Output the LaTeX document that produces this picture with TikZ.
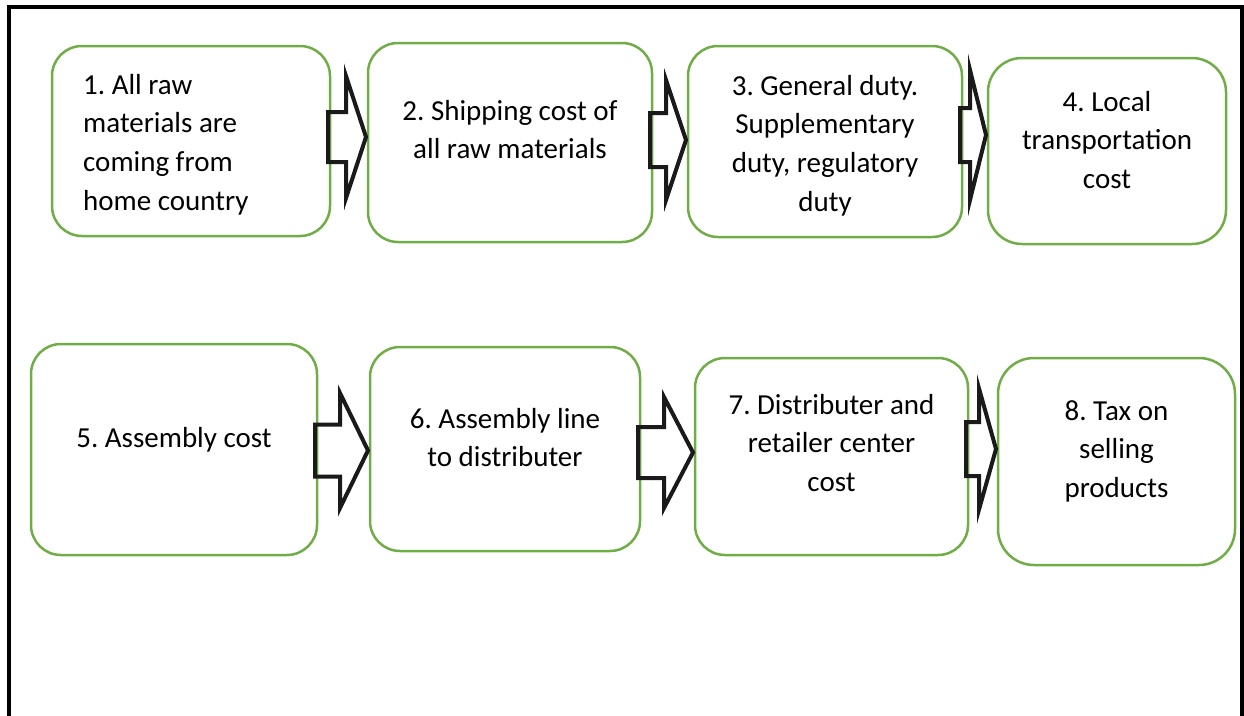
\documentclass[tikz,border=0pt]{standalone}
\usepackage{fontspec}
\setmainfont{Carlito}
\frenchspacing
\usetikzlibrary{calc}
\definecolor{boxgreen}{HTML}{70AD47}
\definecolor{arrowblack}{HTML}{1A1A1A}
% from, to, tip y, shaft half width, head half width, head length
\newcommand\blockarr[6]{%
  \draw[blockarrow] let \p1=(#1.east), \p2=(#2.west) in
    ({\x1-2pt},{-(#3-#4)*1pt}) -- ({\x2-2pt-#6*1pt},{-(#3-#4)*1pt})
    -- ({\x2-2pt-#6*1pt},{-(#3-#5)*1pt}) -- ({\x2-2pt},{-#3*1pt})
    -- ({\x2-2pt-#6*1pt},{-(#3+#5)*1pt}) -- ({\x2-2pt-#6*1pt},{-(#3+#4)*1pt})
    -- ({\x1-2pt},{-(#3+#4)*1pt}) -- cycle;}
\begin{document}
\begin{tikzpicture}[x=1pt,y=-1pt,
  box/.style={draw=boxgreen, line width=2.5pt, rounded corners=30pt, inner sep=0pt, outer sep=0pt},
  txt/.style={font=\fontsize{29}{38.7}\selectfont, inner sep=0pt, align=center, anchor=north},
  blockarrow/.style={draw=arrowblack, line width=4pt, line join=miter},
  frame/.style={draw=black, line width=4pt}]
\useasboundingbox (0,0) rectangle (1244,715);
% outer frame (open at the bottom)
\draw[frame] (9,716) -- (9,7) -- (1241.5,7) -- (1241.5,716);
% boxes
\node[box, minimum width=278pt, minimum height=190pt] (b1) at (191,141) {};
\node[box, minimum width=284pt, minimum height=199pt] (b2) at (510,142.5) {};
\node[box, minimum width=274pt, minimum height=191pt] (b3) at (825,141.5) {};
\node[box, minimum width=238pt, minimum height=186pt, rounded corners=34pt] (b4) at (1107,151) {};
\node[box, minimum width=286pt, minimum height=211pt] (b5) at (174,449.5) {};
\node[box, minimum width=270pt, minimum height=204pt] (b6) at (505,449) {};
\node[box, minimum width=273pt, minimum height=197pt] (b7) at (831.5,456.5) {};
\node[box, minimum width=237pt, minimum height=207pt, rounded corners=36pt] (b8) at (1116.5,461.5) {};
% texts
\node[txt, anchor=north west, align=left] (t1) at (83,{94-27.1}) {\strut 1. All raw\\materials are\\coming from\\home country};
\node[txt] (t2) at (510,{120-27.1}) {\strut 2. Shipping cost of\\all raw materials};
\node[txt] (t3) at (825,{95-27.1}) {\strut 3. General duty.\\Supplementary\\duty, regulatory\\duty};
\node[txt] (t4) at (1107,{111-27.1}) {\strut 4. Local\\transportation\\cost};
\node[txt] (t5) at (174,{447-27.1}) {\strut 5. Assembly cost};
\node[txt] (t6) at (505,{428-27.1}) {\strut 6. Assembly line\\to distributer};
\node[txt] (t7) at (831.5,{414-27.1}) {\strut 7. Distributer and\\retailer center\\cost};
\node[txt] (t8) at (1116.5,{420-27.1}) {\strut 8. Tax on\\selling\\products};
% block arrows
\blockarr{b1}{b2}{137}{25}{61}{20}
\blockarr{b2}{b3}{140}{27}{60}{20}
\blockarr{b3}{b4}{135}{27}{65}{16}
\blockarr{b5}{b6}{450.5}{26}{57.5}{28}
\blockarr{b6}{b7}{452.5}{25.5}{55.5}{29}
\blockarr{b7}{b8}{449}{27}{60.5}{17}
\end{tikzpicture}
\end{document}
